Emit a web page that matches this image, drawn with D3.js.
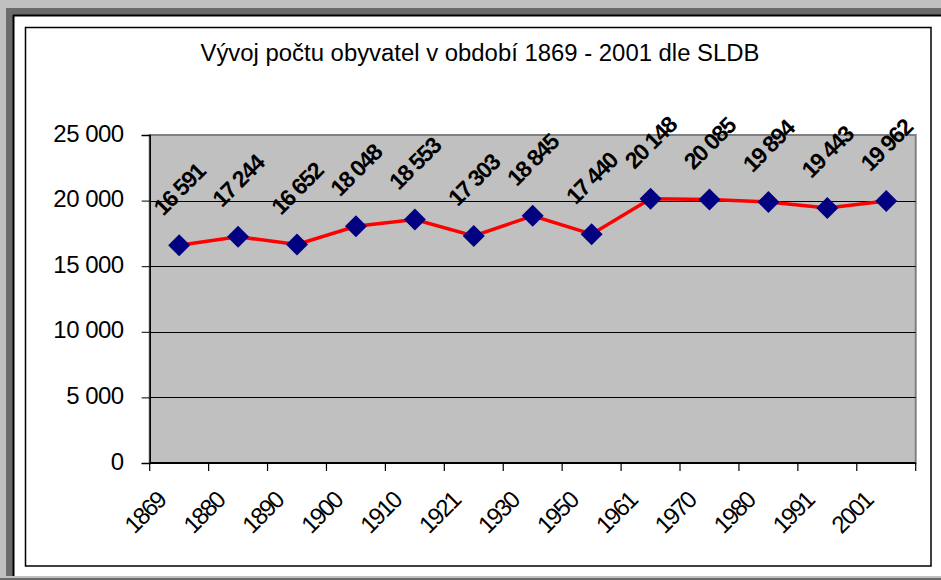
<!DOCTYPE html>
<html>
<head>
<meta charset="utf-8">
<script src="https://cdn.jsdelivr.net/npm/d3@7"></script>
<style>
  body { margin: 0; background: #fff; }
  svg { display: block; font-family: Arial, "Liberation Sans", sans-serif; }
</style>
</head>
<body>
<div id="chart"></div>
<script>
// data
var years = ["1869", "1880", "1890", "1900", "1910", "1921", "1930", "1950", "1961", "1970", "1980", "1991", "2001"];
var population = [16591, 17244, 16652, 18048, 18553, 17303, 18845, 17440, 20148, 20085, 19894, 19443, 19962];
var yTicks = [0, 5000, 10000, 15000, 20000, 25000];
var title = "Vývoj počtu obyvatel v období 1869 - 2001 dle SLDB";

var W = 941, H = 580;
var plot = {left: 149.7, right: 915.7, top: 135, bottom: 463};

var svg = d3.select("#chart").append("svg")
    .attr("width", W)
    .attr("height", H);

// window-ish frame round the chart
svg.append("rect").attr("x", 0).attr("y", 0).attr("width", W).attr("height", H).attr("fill", "#c0c0c0");
svg.append("rect").attr("x", 6).attr("y", 8).attr("width", W - 6).attr("height", H - 8).attr("fill", "#6b6b6b");
svg.append("rect").attr("x", 13).attr("y", 15).attr("width", W - 13).attr("height", 561)
    .attr("fill", "#fff");
svg.append("line").attr("x1", 13).attr("x2", W).attr("y1", 15.5).attr("y2", 15.5).attr("stroke", "#000").attr("stroke-width", 2);
svg.append("line").attr("x1", 13.5).attr("x2", 13.5).attr("y1", 15).attr("y2", 576).attr("stroke", "#000").attr("stroke-width", 2);
svg.append("rect").attr("x", 0).attr("y", 576).attr("width", W).attr("height", 2).attr("fill", "#c0c0c0");
svg.append("rect").attr("x", 0).attr("y", 578).attr("width", W).attr("height", 2).attr("fill", "#6b6b6b");

// chart area border
svg.append("rect")
    .attr("x", 25.5).attr("y", 27.5)
    .attr("width", 931 - 25.5).attr("height", 566 - 27.5)
    .attr("fill", "#fff")
    .attr("stroke", "#000")
    .attr("stroke-width", 1.5);

svg.append("text")
    .attr("x", 480)
    .attr("y", 61)
    .attr("text-anchor", "middle")
    .style("font-size", "23px")
    .attr("textLength", 559)
    .attr("lengthAdjust", "spacingAndGlyphs")
    .text(title);

var x = d3.scaleBand().domain(years).range([plot.left, plot.right]).padding(0);
var y = d3.scaleLinear().domain([0, 25000]).range([plot.bottom, plot.top]);

var fmt = d3.formatLocale({decimal: ",", thousands: " ", grouping: [3], currency: ["", ""]}).format(",d");

// plot area
svg.append("rect")
    .attr("x", plot.left).attr("y", plot.top)
    .attr("width", plot.right - plot.left).attr("height", plot.bottom - plot.top)
    .attr("fill", "#c0c0c0")
    .attr("stroke", "#808080")
    .attr("stroke-width", 2);

// gridlines
svg.append("g")
    .selectAll("line")
    .data(yTicks.filter(function(d) { return d > 0 && d < 25000; }))
    .enter().append("line")
    .attr("x1", plot.left).attr("x2", plot.right)
    .attr("y1", function(d) { return Math.round(y(d)) + 0.5; })
    .attr("y2", function(d) { return Math.round(y(d)) + 0.5; })
    .attr("stroke", "#000")
    .attr("stroke-width", 1);

// y axis
var yAxis = svg.append("g")
    .attr("transform", "translate(" + plot.left + ",0)")
    .call(d3.axisLeft(y).tickValues(yTicks).tickSize(8).tickPadding(18).tickFormat(fmt));
yAxis.select(".domain").attr("stroke", "#000").attr("stroke-width", 1.5);
yAxis.selectAll(".tick line").attr("stroke", "#000");
yAxis.selectAll("text")
    .attr("dy", "0.25em")
    .style("font-size", "24px")
    .style("letter-spacing", "-0.5px")
    .attr("fill", "#000");

// x axis, ticks sit between the categories
var xAxis = svg.append("g")
    .attr("transform", "translate(0," + plot.bottom + ")");
xAxis.append("line")
    .attr("x1", plot.left).attr("x2", plot.right)
    .attr("stroke", "#000").attr("stroke-width", 2);
var bounds = years.map(function(d) { return x(d); }).concat([x(years[years.length - 1]) + x.bandwidth()]);
xAxis.selectAll(".xtick")
    .data(bounds)
    .enter().append("line")
    .attr("class", "xtick")
    .attr("x1", function(d) { return d; }).attr("x2", function(d) { return d; })
    .attr("y1", 0).attr("y2", 8)
    .attr("stroke", "#000").attr("stroke-width", 1.2);
xAxis.selectAll(".xlabel")
    .data(years)
    .enter().append("text")
    .attr("class", "xlabel")
    .attr("text-anchor", "end")
    .attr("transform", function(d) {
        return "translate(" + (x(d) + x.bandwidth() / 2 - 12) + ",39) rotate(-45)";
    })
    .style("font-size", "24px")
    .style("letter-spacing", "-1.8px")
    .text(function(d) { return d; });

// the series
var pts = years.map(function(d, i) { return {year: d, value: population[i]}; });
var cx = function(d) { return x(d.year) + x.bandwidth() / 2; };

svg.append("path")
    .datum(pts)
    .attr("fill", "none")
    .attr("stroke", "#ff0000")
    .attr("stroke-width", 3.5)
    .attr("d", d3.line().x(cx).y(function(d) { return y(d.value); }));

svg.append("g")
    .selectAll("path")
    .data(pts)
    .enter().append("path")
    .attr("transform", function(d) { return "translate(" + cx(d) + "," + y(d.value) + ")"; })
    .attr("d", "M0,-11L11,0L0,11L-11,0Z")
    .attr("fill", "#000080");

svg.append("g")
    .selectAll("text")
    .data(pts)
    .enter().append("text")
    .attr("transform", function(d) { return "translate(" + cx(d) + "," + (y(d.value) - 56) + ") rotate(-45)"; })
    .attr("text-anchor", "middle")
    .attr("dy", "0.35em")
    .style("font-size", "23px")
    .style("font-weight", "bold")
    .style("letter-spacing", "-1.5px")
    .text(function(d) { return fmt(d.value); });
</script>
</body>
</html>
